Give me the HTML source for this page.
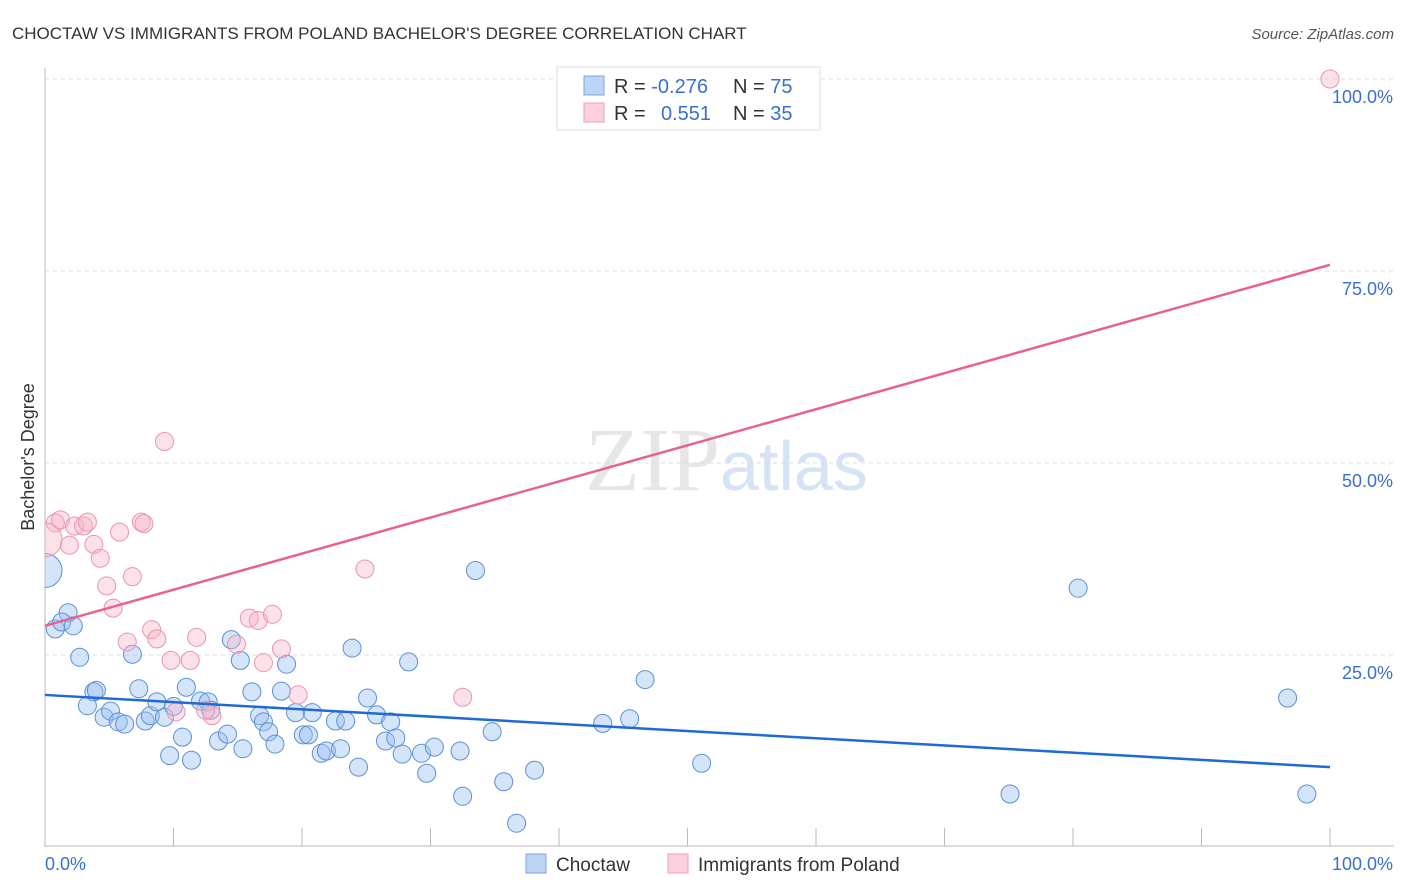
<!DOCTYPE html>
<html><head><meta charset="utf-8"><style>
body{margin:0;background:#fff;font-family:"Liberation Sans",sans-serif;}
svg{display:block}
</style></head><body>
<svg id="chart" width="1406" height="892">
<defs><clipPath id="plotclip"><rect x="45" y="60" width="1360" height="787"/></clipPath></defs>
<text x="12" y="39" font-size="17" fill="#333">CHOCTAW VS IMMIGRANTS FROM POLAND BACHELOR'S DEGREE CORRELATION CHART</text>
<text x="1394" y="39" font-size="15" fill="#555" font-style="italic" text-anchor="end">Source: ZipAtlas.com</text>
<text x="720" y="490" font-size="90" font-family="Liberation Serif,serif" fill="#e6e6e6" text-anchor="end">ZIP</text>
<text x="720" y="490" font-size="70" fill="#d5e3f5">atlas</text>
<g id="grid"></g>
<g id="pts" clip-path="url(#plotclip)"></g>
<g id="lines"></g>
<text transform="translate(34,457) rotate(-90)" font-size="18" fill="#333" text-anchor="middle">Bachelor's Degree</text>
<g>
<rect x="557" y="67" width="263" height="63" fill="#fff" stroke="#ddd"/>
<rect x="584" y="76" width="20" height="19" fill="#bcd4f5" stroke="#7aa6e0"/>
<rect x="584" y="103" width="20" height="19" fill="#fbd0dc" stroke="#eda0b6"/>
<text x="614" y="93" font-size="20" fill="#333">R = <tspan fill="#3a6fd0">-0.276</tspan></text>
<text x="733" y="93" font-size="20" fill="#333">N = <tspan fill="#3a6fd0">75</tspan></text>
<text x="614" y="120" font-size="20" fill="#333">R = <tspan fill="#3a6fd0" x="661">0.551</tspan></text>
<text x="733" y="120" font-size="20" fill="#333">N = <tspan fill="#3a6fd0">35</tspan></text>
</g>
<g>
<rect x="526" y="854" width="20" height="19" fill="#bcd4f5" stroke="#7aa6e0"/>
<text x="556" y="871" font-size="19" fill="#333">Choctaw</text>
<rect x="668" y="854" width="20" height="19" fill="#fbd0dc" stroke="#eda0b6"/>
<text x="698" y="871" font-size="19" fill="#333">Immigrants from Poland</text>
</g>
</svg>
<script>
const blueX=[0.8,1.8,1.3,2.2,2.7,3.8,4.0,3.3,4.6,5.1,5.7,6.2,6.8,7.3,7.8,8.2,8.7,9.3,9.7,10.0,10.7,11.0,11.4,12.1,12.7,12.9,13.5,14.2,14.5,15.2,15.4,16.1,16.7,17.0,17.4,17.9,18.4,18.8,19.5,20.1,20.5,20.8,21.5,21.9,22.6,23.0,23.4,23.9,24.4,25.1,25.8,26.5,26.9,27.3,27.8,28.3,29.3,29.7,30.3,32.3,32.5,33.5,34.8,35.7,36.7,38.1,43.4,45.5,46.7,51.1,75.1,80.4,96.7,98.2,0.0];
const blueY=[28.4,30.5,29.3,28.8,24.7,20.2,20.4,18.4,16.9,17.7,16.3,16.0,25.1,20.6,16.4,17.1,18.9,16.9,11.9,18.3,14.3,20.8,11.3,19.0,18.9,17.8,13.8,14.7,27.0,24.3,12.8,20.2,17.1,16.3,15.0,13.4,20.3,23.8,17.5,14.6,14.6,17.5,12.2,12.5,16.4,12.8,16.4,25.9,10.4,19.4,17.2,13.8,16.3,14.2,12.1,24.1,12.2,9.6,13.0,12.5,6.6,36.0,15.0,8.5,3.1,10.0,16.1,16.7,21.8,10.9,6.9,33.7,19.4,6.9,36.0];
const blueR=[9,9,9,9,9,9,9,9,9,9,9,9,9,9,9,9,9,9,9,9,9,9,9,9,9,9,9,9,9,9,9,9,9,9,9,9,9,9,9,9,9,9,9,9,9,9,9,9,9,9,9,9,9,9,9,9,9,9,9,9,9,9,9,9,9,9,9,9,9,9,9,9,9,9,17];
const pinkX=[100,0.8,1.2,0.0,2.3,3.0,3.3,1.9,3.8,4.3,4.8,5.3,5.8,6.8,7.5,7.7,6.4,8.3,8.7,9.8,9.3,10.2,11.3,11.8,13.0,12.5,14.9,15.9,16.6,17.7,17.0,18.4,19.7,24.9,32.5];
const pinkY=[100,42.2,42.6,40.0,41.8,41.8,42.3,39.3,39.4,37.6,34.0,31.1,41.0,35.2,42.3,42.1,26.7,28.3,27.1,24.3,52.8,17.6,24.3,27.3,17.1,17.8,26.4,29.8,29.5,30.3,24.0,25.8,19.8,36.2,19.5];
const pinkR=[9,9,9,17,9,9,9,9,9,9,9,9,9,9,9,9,9,9,9,9,9,9,9,9,9,9,9,9,9,9,9,9,9,9,9];
const blueFit=[19.8,10.4];
const pinkFit=[28.8,75.8];
const yTicks=[25,50,75,100];
const xTicks=[0,10,20,30,40,50,60,70,80,90,100];
const NS="http://www.w3.org/2000/svg";
const sx=v=>45+v*12.85, sy=v=>847-v*7.68;
function mk(tag,attrs,parent){const e=document.createElementNS(NS,tag);for(const k in attrs)e.setAttribute(k,attrs[k]);parent.appendChild(e);return e;}
const grid=document.getElementById('grid');
yTicks.forEach(t=>{
  const l=mk('line',{x1:45,x2:1394,y1:sy(t),y2:sy(t),stroke:'#ddd','stroke-dasharray':'4,4'},grid);
  
  
  const tx=mk('text',{x:1393,y:sy(t)+24,'font-size':18,fill:'#3a6fd0','text-anchor':'end'},grid);tx.textContent=t.toFixed(1)+'%';
  
  
});
mk('line',{x1:45,x2:45,y1:68,y2:847,stroke:'#bbb'},grid);
mk('line',{x1:45,x2:1394,y1:846,y2:846,stroke:'#bbb'},grid);
xTicks.forEach(t=>{const l=mk('line',{x1:sx(t),x2:sx(t),y1:828,y2:846,stroke:'#bbb'},grid);
  
  });
const xl0=mk('text',{x:45,y:870,'font-size':18,fill:'#3a6fd0'},grid);xl0.textContent='0.0%';


const xl1=mk('text',{x:1393,y:870,'font-size':18,fill:'#3a6fd0','text-anchor':'end'},grid);xl1.textContent='100.0%';


const pts=document.getElementById('pts');
blueX.forEach((x,i)=>{const c=mk('circle',{cx:sx(x),cy:sy(blueY[i]),r:blueR[i],fill:'rgba(150,190,240,0.4)',stroke:'#5b8fd8','stroke-width':1},pts);
  
  });
pinkX.forEach((x,i)=>{const c=mk('circle',{cx:sx(x),cy:sy(pinkY[i]),r:pinkR[i],fill:'rgba(248,180,200,0.4)',stroke:'#eb94ae','stroke-width':1},pts);
  
  });
const lines=document.getElementById('lines');
const bl=mk('line',{x1:sx(0),y1:sy(blueFit[0]),x2:sx(100),y2:sy(blueFit[1]),stroke:'#1f6ad6','stroke-width':2.5},lines);


const pl=mk('line',{x1:sx(0),y1:sy(pinkFit[0]),x2:sx(100),y2:sy(pinkFit[1]),stroke:'#e8628e','stroke-width':2.5},lines);


</script>
</body></html>
